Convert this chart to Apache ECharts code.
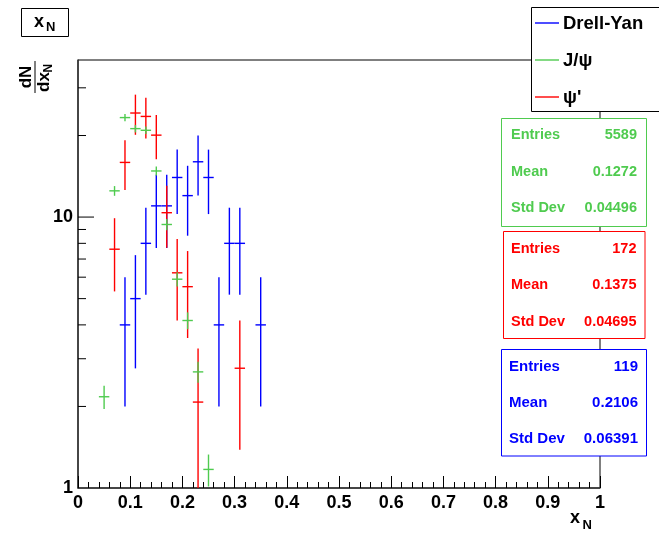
<!DOCTYPE html>
<html>
<head>
<meta charset="utf-8">
<script src="https://cdn.jsdelivr.net/npm/echarts@6/dist/echarts.min.js"></script>
<style>
  html, body { margin: 0; padding: 0; background: #fff; }
  #chart { width: 659px; height: 533px; }
</style>
</head>
<body>
<div id="chart"></div>
<script>
// x_N histograms, bin width 0.02; counts per bin
const binWidth = 0.02;
const dyCenters   = [0.09, 0.11, 0.13, 0.15, 0.17, 0.19, 0.21, 0.23, 0.25, 0.27, 0.29, 0.31, 0.35];
const dyCounts    = [4, 5, 8, 11, 11, 14, 12, 16, 14, 4, 8, 8, 4];
const jpsiCenters = [0.05, 0.07, 0.09, 0.11, 0.13, 0.15, 0.17, 0.19, 0.21, 0.23, 0.25];
const jpsiCounts  = [102, 587, 1094, 996, 982, 695, 441, 277, 195, 126, 55];
const psipCenters = [0.07, 0.09, 0.11, 0.13, 0.15, 0.17, 0.19, 0.21, 0.23, 0.31];
const psipCounts  = [11, 23, 35, 34, 29, 15, 9, 8, 3, 4];

// every histogram is normalised to the Drell-Yan entries
const dyEntries = 119, jpsiEntries = 5589, psipEntries = 172;

// statistics boxes
const statNames = ['Entries', 'Mean', 'Std Dev'];
const jpsiStats = ['5589', '0.1272', '0.04496'];
const psipStats = ['172', '0.1375', '0.04695'];
const dyStats   = ['119', '0.2106', '0.06391'];

// legend entries
const legendNames = ['Drell-Yan', 'J/\u03C8', '\u03C8\''];

// log-axis ticks
const yMajorTicks = [10];
const yMinorTicks = [2, 3, 4, 5, 6, 7, 8, 9, 20, 30];
const yLabelValues = [1, 10];

const BLUE = '#0000ff', RED = '#ff0000', GREEN = '#4fcb4f';
const FONT = '"Liberation Sans", Arial, Helvetica, sans-serif';
const BAR_WIDTH = 1.4;

function histData(centers, counts, scale) {
  return centers.map((c, i) => [c, counts[i] * scale, Math.sqrt(counts[i]) * scale]);
}

function errorBars(color) {
  return function (params, api) {
    const x = api.value(0), v = api.value(1), e = api.value(2);
    const lo = Math.max(v - e, 0.3);
    const top = api.coord([x, v + e]);
    const bot = api.coord([x, lo]);
    const l = api.coord([x - binWidth / 2, v]);
    const r = api.coord([x + binWidth / 2, v]);
    const st = { stroke: color, lineWidth: BAR_WIDTH };
    return {
      type: 'group',
      children: [
        { type: 'line', shape: { x1: top[0], y1: top[1], x2: bot[0], y2: bot[1] }, style: st },
        { type: 'line', shape: { x1: l[0], y1: l[1], x2: r[0], y2: r[1] }, style: st }
      ]
    };
  };
}

function tickSeries(values, len) {
  return {
    type: 'custom',
    silent: true,
    clip: false,
    data: values.map(v => [0, v]),
    renderItem: function (params, api) {
      const p = api.coord([0, api.value(1)]);
      return { type: 'line', shape: { x1: p[0], y1: p[1], x2: p[0] + len, y2: p[1] },
               style: { stroke: '#000', lineWidth: 1 } };
    }
  };
}

function txt(text, x, y, size, color, align) {
  return { type: 'text', x: x, y: y, z: 100,
    style: { text: text, fill: color || '#000', align: align || 'left', verticalAlign: 'middle',
             font: 'bold ' + size + 'px ' + FONT } };
}

function rect(x, y, w, h, color) {
  return { type: 'rect', z: 99, shape: { x: x, y: y, width: w, height: h },
    style: { fill: '#fff', stroke: color, lineWidth: 1 } };
}

function statBox(x, y, w, h, rows, labelX, valueX, color, values, size) {
  const els = [rect(x, y, w, h, color)];
  rows.forEach((ry, i) => {
    els.push(txt(statNames[i], labelX, ry, size, color, 'left'));
    els.push(txt(values[i], valueX, ry, size, color, 'right'));
  });
  return els;
}

const graphics = [];
// histogram title box
graphics.push(rect(21.5, 8.5, 47, 28, '#000'));
graphics.push(txt('x', 34, 22, 18, '#000'));
graphics.push(txt('N', 46, 27.5, 13, '#000'));
// x-axis title
graphics.push(txt('x', 570, 518, 18, '#000'));
graphics.push(txt('N', 582.5, 525, 13, '#000'));
// y-axis title: dN / dx_N, rotated
graphics.push({
  type: 'group', x: 35, y: 77, rotation: Math.PI / 2, z: 100,
  children: [
    { type: 'text', x: 0, y: -9, style: { text: 'dN', align: 'center', verticalAlign: 'middle', fill: '#000', font: 'bold 17px ' + FONT } },
    { type: 'line', shape: { x1: -16, y1: 0, x2: 16, y2: 0 }, style: { stroke: '#000', lineWidth: 1 } },
    { type: 'text', x: -15, y: 9, style: { text: 'dx', align: 'left', verticalAlign: 'middle', fill: '#000', font: 'bold 17px ' + FONT } },
    { type: 'text', x: 4.5, y: 14, style: { text: 'N', align: 'left', verticalAlign: 'middle', fill: '#000', font: 'bold 12px ' + FONT } }
  ]
});
// legend
graphics.push(rect(531.5, 7.5, 140, 104, '#000'));
[[BLUE, 23], [GREEN, 60], [RED, 97]].forEach((e, i) => {
  graphics.push({ type: 'line', z: 100, shape: { x1: 535, y1: e[1], x2: 559, y2: e[1] }, style: { stroke: e[0], lineWidth: BAR_WIDTH } });
  graphics.push(txt(legendNames[i], 563, e[1] + 0.5, 18.5, '#000'));
});
// statistics boxes
graphics.push(...statBox(501.5, 118.5, 145, 108, [135, 171.5, 207.5], 511, 637, GREEN, jpsiStats, 14.5));
graphics.push(...statBox(503.5, 231.5, 141.5, 107, [249, 285, 321.5], 511, 636.5, RED, psipStats, 14.5));
graphics.push(...statBox(501.5, 349.5, 145, 106.5, [366.5, 403, 438.5], 509, 638, BLUE, dyStats, 15));

const chart = echarts.init(document.getElementById('chart'), null, { renderer: 'canvas' });
chart.setOption({
  animation: false,
  backgroundColor: '#fff',
  grid: { left: 78, right: 59, top: 60, bottom: 45, show: true, borderColor: '#000', borderWidth: 1, backgroundColor: 'transparent' },
  xAxis: {
    type: 'value', min: 0, max: 1, interval: 0.1,
    axisLine: { show: true, onZero: false, lineStyle: { color: '#333', width: 1.5 } },
    axisTick: { show: true, inside: true, length: 12, lineStyle: { color: '#000', width: 1 } },
    minorTick: { show: true, splitNumber: 5, length: 6, lineStyle: { color: '#000', width: 1 } },
    splitLine: { show: false },
    axisLabel: { margin: 6, fontFamily: FONT, fontWeight: 'bold', fontSize: 18, color: '#000',
      formatter: v => String(+v.toFixed(2)) }
  },
  yAxis: {
    type: 'log', logBase: 10, min: 1, max: 38,
    axisLine: { show: true, onZero: false, lineStyle: { color: '#333', width: 1.5 } },
    axisTick: { show: false },
    splitLine: { show: false },
    axisLabel: { margin: 5, fontFamily: FONT, fontWeight: 'bold', fontSize: 18, color: '#000',
      formatter: v => yLabelValues.some(t => Math.abs(v - t) < 1e-6) ? String(Math.round(v)) : '' }
  },
  series: [
    tickSeries(yMajorTicks, 16),
    tickSeries(yMinorTicks, 8),
    { name: 'Drell-Yan', type: 'custom', clip: true, renderItem: errorBars(BLUE),
      data: histData(dyCenters, dyCounts, dyEntries / dyEntries) },
    { name: '\u03C8\'', type: 'custom', clip: true, renderItem: errorBars(RED),
      data: histData(psipCenters, psipCounts, dyEntries / psipEntries) },
    { name: 'J/\u03C8', type: 'custom', clip: true, renderItem: errorBars(GREEN),
      data: histData(jpsiCenters, jpsiCounts, dyEntries / jpsiEntries) }
  ],
  graphic: graphics
});
</script>
</body>
</html>
